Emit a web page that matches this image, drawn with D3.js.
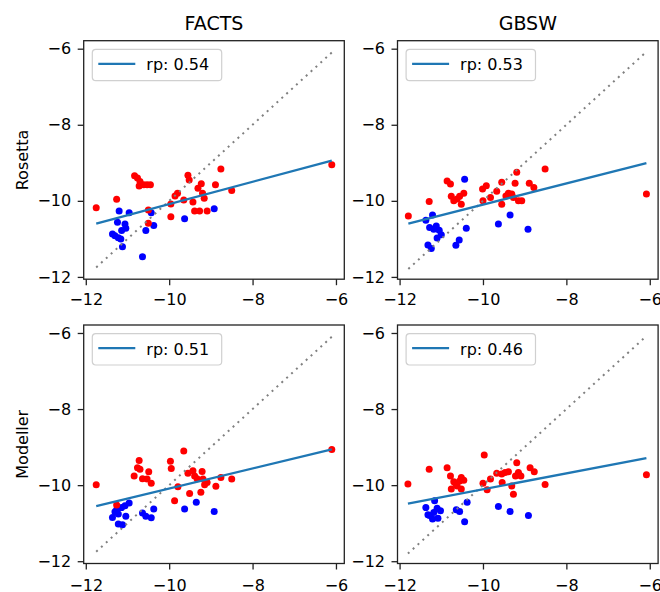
<!DOCTYPE html>
<html>
<head>
<meta charset="utf-8">
<script src="https://cdn.jsdelivr.net/npm/d3@7"></script>
<style>
  html, body { margin: 0; padding: 0; background: #fff; }
  svg { display: block; }
  text { font-family: "DejaVu Sans", sans-serif; fill: #000; }
</style>
</head>
<body>
<svg id="chart" width="660" height="592"></svg>
<script>
// Experimental vs. computed binding free energies, two structure sources x two solvent models.
const colTitles = ["FACTS", "GBSW"];
const rowLabels = ["Rosetta", "Modeller"];
const rpLabels = ["rp: 0.54", "rp: 0.53", "rp: 0.51", "rp: 0.46"];
const fitSlopes = [0.294, 0.278, 0.264, 0.210];
const fitIntercepts = [-7.147, -7.320, -7.450, -8.010];
const tickValues = [-12, -10, -8, -6];

// [experimental, computed] pairs
const rosettaFactsRed = [
  [-11.75,-10.18],[-11.26,-9.96],[-10.83,-9.34],[-10.76,-9.40],[-10.70,-9.49],[-10.72,-9.61],
  [-10.61,-9.58],[-10.53,-9.58],[-10.45,-9.58],[-10.50,-10.24],[-10.50,-10.59],[-9.96,-10.08],
  [-9.96,-10.42],[-9.86,-9.87],[-9.80,-9.80],[-9.65,-9.98],[-9.55,-9.33],[-9.52,-9.45],
  [-9.43,-10.03],[-9.39,-10.27],[-9.31,-9.67],[-9.27,-10.27],[-9.23,-9.55],[-9.20,-9.80],
  [-9.16,-9.93],[-9.09,-10.27],[-8.89,-9.58],[-8.76,-9.16],[-8.50,-9.73],[-6.10,-9.05]
];
const rosettaFactsBlue = [
  [-11.20,-10.27],[-10.96,-10.31],[-11.24,-10.56],[-11.06,-10.61],[-11.04,-10.72],[-11.14,-10.78],
  [-11.36,-10.87],[-11.30,-10.92],[-11.22,-10.97],[-11.16,-11.00],[-11.12,-11.21],[-10.64,-11.47],
  [-10.56,-10.78],[-10.43,-10.31],[-10.37,-10.65],[-9.63,-10.47],[-8.92,-10.21]
];
const rosettaGbswRed = [
  [-11.79,-10.40],[-11.29,-10.02],[-10.86,-9.48],[-10.78,-9.56],[-10.76,-9.88],[-10.70,-10.00],
  [-10.62,-9.95],[-10.56,-9.88],[-10.52,-10.09],[-10.46,-9.80],[-10.01,-9.69],[-9.92,-9.60],
  [-10.00,-10.00],[-9.82,-9.91],[-9.67,-9.75],[-9.55,-9.51],[-9.55,-10.09],[-9.45,-9.87],
  [-9.39,-9.80],[-9.31,-9.82],[-9.27,-9.91],[-9.23,-9.54],[-9.19,-9.25],[-9.15,-10.00],
  [-9.07,-10.00],[-8.89,-9.54],[-8.78,-9.65],[-8.51,-9.16],[-6.08,-9.82]
];
const rosettaGbswBlue = [
  [-11.37,-10.51],[-11.21,-10.37],[-11.28,-10.70],[-11.18,-10.75],[-11.12,-10.66],[-11.05,-10.77],
  [-11.10,-10.98],[-11.00,-10.89],[-11.32,-11.16],[-11.24,-11.25],[-10.65,-11.17],[-10.57,-11.03],
  [-10.44,-9.43],[-10.40,-10.72],[-9.63,-10.61],[-9.35,-10.37],[-8.92,-10.75]
];
const modellerFactsRed = [
  [-11.75,-9.99],[-11.26,-10.52],[-10.84,-9.76],[-10.76,-9.54],[-10.70,-9.58],[-10.72,-9.35],
  [-10.64,-9.83],[-10.53,-9.84],[-10.49,-9.65],[-10.43,-9.95],[-9.97,-9.37],[-9.95,-9.56],
  [-9.87,-10.41],[-9.79,-10.04],[-9.65,-9.10],[-9.55,-9.69],[-9.51,-10.22],[-9.43,-9.62],
  [-9.39,-9.76],[-9.33,-9.83],[-9.24,-10.19],[-9.21,-9.64],[-9.19,-9.84],[-9.15,-9.99],
  [-9.09,-9.93],[-8.88,-10.03],[-8.76,-9.80],[-8.50,-9.84],[-6.10,-9.06]
];
const modellerFactsBlue = [
  [-11.36,-10.85],[-11.30,-10.70],[-11.22,-10.76],[-11.14,-10.59],[-11.06,-10.54],[-10.96,-10.47],
  [-11.22,-11.02],[-11.12,-11.04],[-11.04,-10.82],[-11.26,-10.65],[-10.64,-10.73],[-10.56,-10.82],
  [-10.43,-10.86],[-10.37,-10.63],[-9.63,-10.63],[-9.35,-10.45],[-8.92,-10.69]
];
const modellerGbswRed = [
  [-11.80,-9.97],[-11.29,-9.58],[-10.86,-9.54],[-10.78,-9.76],[-10.76,-10.10],[-10.70,-9.91],
  [-10.62,-10.02],[-10.56,-9.89],[-10.52,-10.10],[-10.52,-9.80],[-10.46,-9.87],[-10.65,-9.97],
  [-9.97,-9.21],[-10.00,-9.95],[-9.90,-10.12],[-9.82,-9.84],[-9.67,-9.69],[-9.55,-9.71],
  [-9.54,-9.93],[-9.47,-9.67],[-9.39,-9.65],[-9.31,-10.02],[-9.27,-10.24],[-9.22,-9.76],
  [-9.19,-9.41],[-9.15,-9.67],[-9.09,-9.76],[-8.87,-9.54],[-8.77,-9.65],[-8.51,-9.98],
  [-6.08,-9.73]
];
const modellerGbswBlue = [
  [-11.37,-10.59],[-11.16,-10.41],[-11.28,-10.80],[-11.18,-10.72],[-11.10,-10.61],[-11.02,-10.67],
  [-11.21,-10.89],[-11.08,-10.87],[-11.32,-10.78],[-10.64,-10.65],[-10.56,-10.69],[-10.44,-10.96],
  [-10.38,-10.45],[-9.63,-10.56],[-9.35,-10.69],[-8.91,-10.80]
];

const panels = [
  { red: rosettaFactsRed,  blue: rosettaFactsBlue,  row: 0, col: 0 },
  { red: rosettaGbswRed,   blue: rosettaGbswBlue,   row: 0, col: 1 },
  { red: modellerFactsRed, blue: modellerFactsBlue, row: 1, col: 0 },
  { red: modellerGbswRed,  blue: modellerGbswBlue,  row: 1, col: 1 }
];

const svg = d3.select("#chart");
const colLeft = [83.7, 397.5];
const rowTop = [40.7, 325];
const pw = 260.6, ph = 238.5;
const domain = [-12.05, -5.80];
const fmt = d3.format("d");

panels.forEach((p, i) => {
  const g = svg.append("g").attr("transform", `translate(${colLeft[p.col]},${rowTop[p.row]})`);
  const x = d3.scaleLinear().domain(domain).range([0, pw]);
  const y = d3.scaleLinear().domain([-12.06, -5.79]).range([ph, 0]);

  const all = p.red.concat(p.blue);
  const xExt = d3.extent(all, d => d[0]);

  // points
  g.append("g").selectAll("circle").data(p.blue).join("circle")
    .attr("cx", d => x(d[0])).attr("cy", d => y(d[1])).attr("r", 3.5).attr("fill", "#0000ff");
  g.append("g").selectAll("circle").data(p.red).join("circle")
    .attr("cx", d => x(d[0])).attr("cy", d => y(d[1])).attr("r", 3.5).attr("fill", "#ff0000");

  // identity line
  g.append("line")
    .attr("x1", x(xExt[0])).attr("y1", y(xExt[0]))
    .attr("x2", x(xExt[1])).attr("y2", y(xExt[1]))
    .attr("stroke", "#808080").attr("stroke-width", 2)
    .attr("stroke-dasharray", "2 4.6");

  // linear fit
  const fy = v => fitSlopes[i] * v + fitIntercepts[i];
  g.append("line")
    .attr("x1", x(xExt[0])).attr("y1", y(fy(xExt[0])))
    .attr("x2", x(xExt[1])).attr("y2", y(fy(xExt[1])))
    .attr("stroke", "#1f77b4").attr("stroke-width", 2.3);

  // axes
  const ax = g.append("g").attr("transform", `translate(0,${ph})`)
    .call(d3.axisBottom(x).tickValues(tickValues).tickFormat(fmt).tickSize(6).tickPadding(p.row === 0 ? 8 : 10));
  const ay = g.append("g")
    .call(d3.axisLeft(y).tickValues(tickValues).tickFormat(fmt).tickSize(6).tickPadding(6.5));
  [ax, ay].forEach(a => {
    a.select(".domain").remove();
    a.selectAll("line").attr("stroke", "#222").attr("stroke-width", 1.3);
    a.selectAll("text").attr("font-size", 16).attr("font-family", "DejaVu Sans").attr("fill", "#111");
  });

  // frame
  g.append("rect").attr("width", pw).attr("height", ph)
    .attr("fill", "none").attr("stroke", "#222").attr("stroke-width", 1.3);

  // legend
  const lg = g.append("g").attr("transform", "translate(8.6,8.6)");
  lg.append("rect").attr("width", 129.4).attr("height", 31.4).attr("rx", 3.5)
    .attr("fill", "#fff").attr("fill-opacity", 0.8)
    .attr("stroke", "#d0d0d0").attr("stroke-width", 1.2);
  lg.append("line").attr("x1", 6).attr("x2", 43).attr("y1", 14.5).attr("y2", 14.5)
    .attr("stroke", "#1f77b4").attr("stroke-width", 2.3);
  lg.append("text").attr("x", 54).attr("y", 21).attr("font-size", 16).text(rpLabels[i]);

  if (p.row === 0) {
    g.append("text").attr("x", pw / 2).attr("y", -11).attr("text-anchor", "middle")
      .attr("font-size", 19).text(colTitles[p.col]);
  }
  if (p.col === 0) {
    g.append("text").attr("transform", `translate(${28 - colLeft[0]},${ph / 2}) rotate(-90)`)
      .attr("text-anchor", "middle").attr("font-size", 16).text(rowLabels[p.row]);
  }
});
</script>
</body>
</html>
